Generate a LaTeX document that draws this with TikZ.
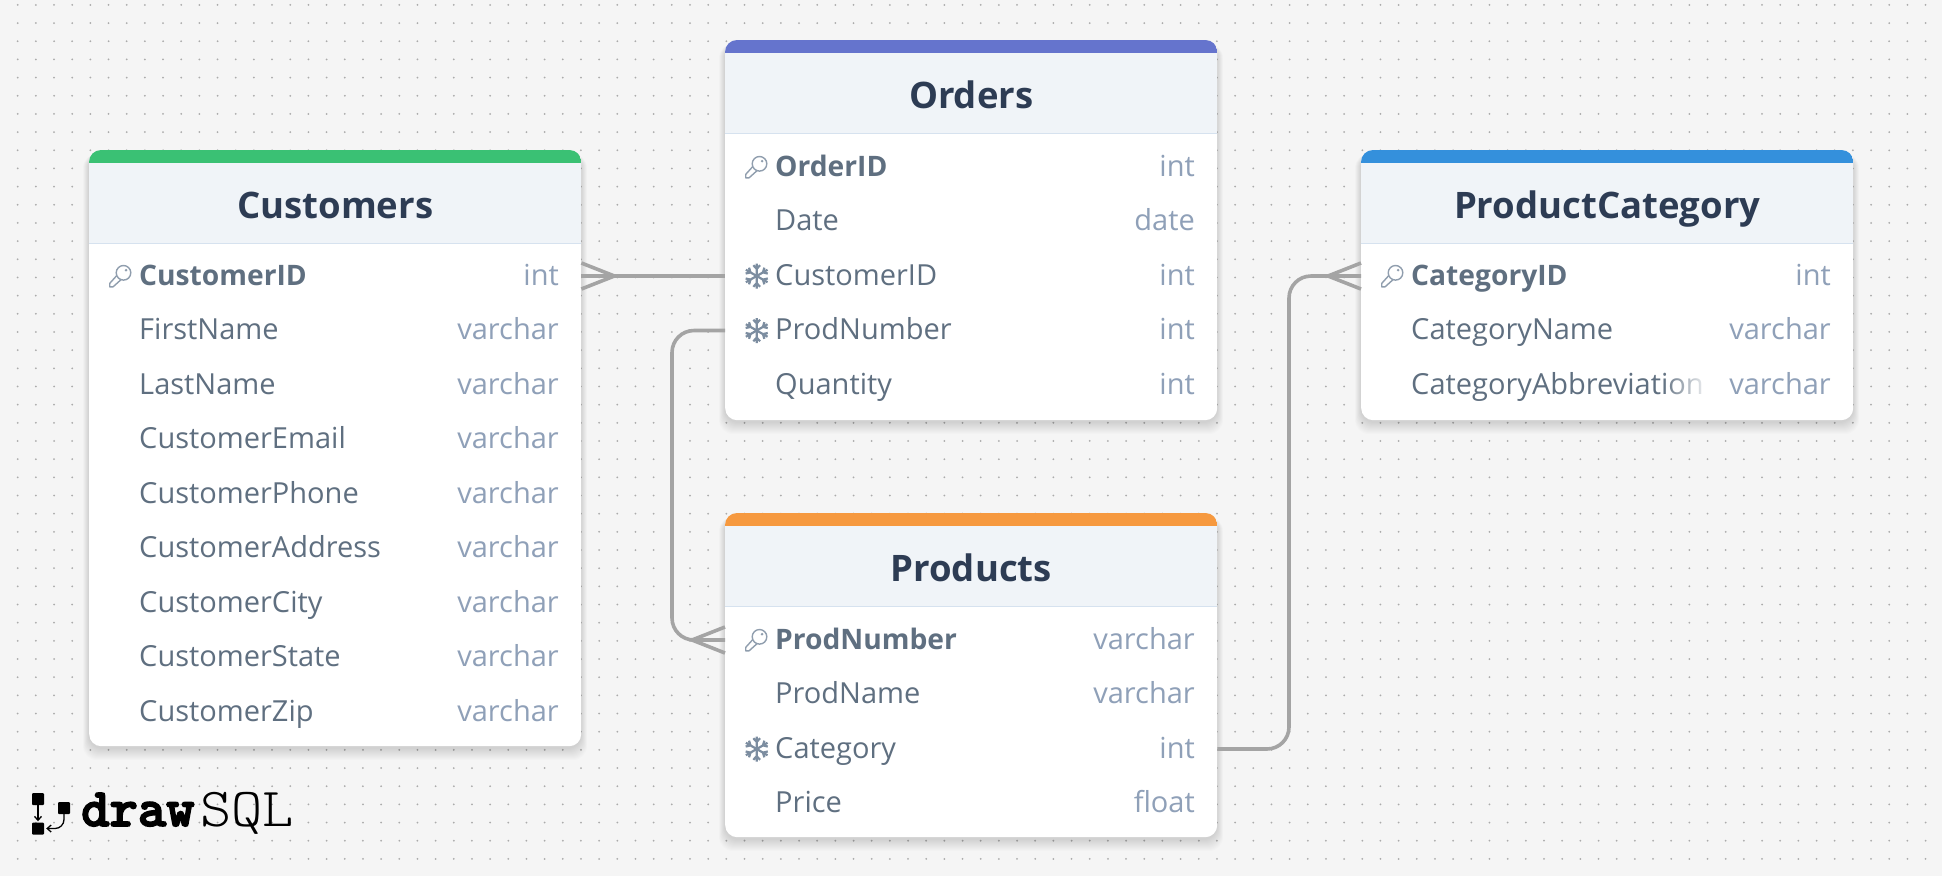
\documentclass[tikz,border=0pt]{standalone}
\usepackage{fontspec}
\setmainfont{Open Sans}
\newfontfamily\logobold[FakeBold=3]{Latin Modern Mono Light}
\newfontfamily\logolight[FakeStretch=1.08]{Latin Modern Mono Light}
\usetikzlibrary{calc,fadings,arrows.meta}

\definecolor{canvasbg}{HTML}{F5F5F5}
\definecolor{griddot}{HTML}{ABABAB}
\definecolor{headbg}{HTML}{F0F4F8}
\definecolor{headrule}{HTML}{D6E2EF}
\definecolor{titleink}{HTML}{2D3C54}
\definecolor{fieldink}{HTML}{5F6F80}
\definecolor{typeink}{HTML}{8FA0B8}
\definecolor{iconink}{HTML}{7C8DA0}
\definecolor{relink}{HTML}{A4A4A4}
\definecolor{barcust}{HTML}{3AC174}
\definecolor{barord}{HTML}{6574CD}
\definecolor{barprod}{HTML}{F6993F}
\definecolor{barcat}{HTML}{3490DC}

\tikzset{
	tablebody/.style={rectangle,rounded corners=12pt,fill=white,minimum width=492pt,anchor=north west,inner sep=0pt},
	tabletitle/.style={font=\fontsize{36.5}{36.5}\selectfont\bfseries,text=titleink,inner sep=0pt,text height=27pt,text depth=0pt},
	rowtext/.style={font=\fontsize{29}{29}\selectfont,inner sep=0pt,text height=18pt,text depth=0pt},
	fieldname/.style={rowtext,text=fieldink,anchor=west},
	pkname/.style={fieldname,font=\fontsize{28.2}{28.2}\selectfont\bfseries},
	fieldtype/.style={rowtext,text=typeink,anchor=east},
	relline/.style={draw=relink,line width=3.6pt},
	logosquare/.style={fill=black,rectangle,rounded corners=1pt,minimum size=12pt,inner sep=0pt},
	keyicon/.pic={
		\draw[iconink!85,line width=1.4pt,line join=round,fill=white] (0.6,3.6) -- (-7.4,10.8) -- (-10.8,10.8) -- (-10.8,7.4) -- (-3.6,-0.6);
		\draw[iconink!85,line width=1.4pt,fill=white] (3,-3.2) circle (7.3pt);
		\fill[iconink!85] (5.6,-5.8) circle (1.4pt);
	},
	flakeicon/.pic={
		\foreach \ang in {30,90,...,330}{
			\draw[iconink,line width=2.2pt,rotate=\ang] (0,0) -- (12.5,0) (10.8,-3.4) -- (7.2,0) -- (10.8,3.4);
		}
	}
}

%table with soft shadow, args: name, left, top, height, colour, title
\newcommand{\dbtable}[6]{
	\foreach \s in {1,...,12}{
		\fill[black,fill opacity=0.012,rounded corners=14pt] (#2-\s/2,#3+4) rectangle (#2+492+\s/2,#3+#4+\s+2);
	}
	\node[tablebody,minimum height=#4pt] (#1) at (#2,#3) {};
	\begin{scope}
		\clip[rounded corners=12pt] (#1.north west) rectangle (#1.south east);
		\fill[headbg] (#1.north west) rectangle ($(#1.north east)+(0,93)$);
		\fill[#5] (#1.north west) rectangle ($(#1.north east)+(0,13)$);
	\end{scope}
	\draw[headrule,line width=1.5pt] ($(#1.north west)+(0,93.5)$) -- ($(#1.north east)+(0,93.5)$);
	\node[tabletitle] (#1title) at ($(#1.north)+(0,55)$) {#6};
}
%many-side marker of a relation
\newcommand{\crowfoot}[2]{
	\draw[relline] ($(#1)+(0,-13)$) -- ($(#1)+(#2*33,0)$) -- ($(#1)+(0,13)$);
}

\begin{document}
\begin{tikzpicture}[x=1pt,y=-1pt]
		\useasboundingbox (0,0) rectangle (1942,876);
		\fill[canvasbg] (0,0) rectangle (1942,876);
		
		%dot grid
		\foreach \i in {0,...,106}{
			\foreach \j in {0,...,47}{
				\fill[griddot] (17.7+\i*18.17,4.9+\j*18.17) circle (1pt);
			}
		}
		
		%tables
		\dbtable{cust}{89}{150}{596}{barcust}{Customers}
		\dbtable{ord}{725}{40}{380}{barord}{Orders}
		\dbtable{prod}{725}{513}{324}{barprod}{Products}
		\dbtable{cat}{1361}{150}{270}{barcat}{ProductCategory}
		
		%customers rows
		\pic at (120.5,276) {keyicon};
		\node[pkname] (cust1) at (139,276) {CustomerID};
		\node[fieldtype] (cust1t) at (559,276) {int};
		\node[fieldname] (cust2) at (139,330.5) {FirstName};
		\node[fieldtype] (cust2t) at (559,330.5) {varchar};
		\node[fieldname] (cust3) at (139,385) {LastName};
		\node[fieldtype] (cust3t) at (559,385) {varchar};
		\node[fieldname] (cust4) at (139,439.5) {CustomerEmail};
		\node[fieldtype] (cust4t) at (559,439.5) {varchar};
		\node[fieldname] (cust5) at (139,494) {CustomerPhone};
		\node[fieldtype] (cust5t) at (559,494) {varchar};
		\node[fieldname] (cust6) at (139,548.5) {CustomerAddress};
		\node[fieldtype] (cust6t) at (559,548.5) {varchar};
		\node[fieldname] (cust7) at (139,603) {CustomerCity};
		\node[fieldtype] (cust7t) at (559,603) {varchar};
		\node[fieldname] (cust8) at (139,657.5) {CustomerState};
		\node[fieldtype] (cust8t) at (559,657.5) {varchar};
		\node[fieldname] (cust9) at (139,712) {CustomerZip};
		\node[fieldtype] (cust9t) at (559,712) {varchar};
		
		%orders rows
		\pic at (756.5,167) {keyicon};
		\node[pkname] (ord1) at (775,167) {OrderID};
		\node[fieldtype] (ord1t) at (1195,167) {int};
		\node[fieldname] (ord2) at (775,221.5) {Date};
		\node[fieldtype] (ord2t) at (1195,221.5) {date};
		\pic at (756.7,276) {flakeicon};
		\node[fieldname] (ord3) at (775,276) {CustomerID};
		\node[fieldtype] (ord3t) at (1195,276) {int};
		\pic at (756.7,330.5) {flakeicon};
		\node[fieldname] (ord4) at (775,330.5) {ProdNumber};
		\node[fieldtype] (ord4t) at (1195,330.5) {int};
		\node[fieldname] (ord5) at (775,385) {Quantity};
		\node[fieldtype] (ord5t) at (1195,385) {int};
		
		%products rows
		\pic at (756.5,640) {keyicon};
		\node[pkname] (prod1) at (775,640) {ProdNumber};
		\node[fieldtype] (prod1t) at (1195,640) {varchar};
		\node[fieldname] (prod2) at (775,694.5) {ProdName};
		\node[fieldtype] (prod2t) at (1195,694.5) {varchar};
		\pic at (756.7,749) {flakeicon};
		\node[fieldname] (prod3) at (775,749) {Category};
		\node[fieldtype] (prod3t) at (1195,749) {int};
		\node[fieldname] (prod4) at (775,803.5) {Price};
		\node[fieldtype] (prod4t) at (1195,803.5) {float};
		
		%category rows
		\pic at (1392.5,276) {keyicon};
		\node[pkname] (cat1) at (1411,276) {CategoryID};
		\node[fieldtype] (cat1t) at (1831,276) {int};
		\node[fieldname] (cat2) at (1411,330.5) {CategoryName};
		\node[fieldtype] (cat2t) at (1831,330.5) {varchar};
		\node[fieldname] (cat3) at (1411,385) {CategoryAbbreviation};
		\fill[white] (1708,365) rectangle (1726,405);
		\fill[white,path fading=west] (1662,365) rectangle (1710,405);
		\node[fieldtype] (cat3t) at (1831,385) {varchar};
		
		%relations
		\draw[relline] (cust.east |- cust1) -- (ord.west |- ord3);
		\crowfoot{cust.east |- cust1}{1}
		\draw[relline,rounded corners=22pt] (ord.west |- ord4) -| (672,640) -- (prod.west |- prod1);
		\crowfoot{prod.west |- prod1}{-1}
		\draw[relline,rounded corners=22pt] (prod.east |- prod3) -| (1289,276) -- (cat.west |- cat1);
		\crowfoot{cat.west |- cat1}{-1}
		
		%logo
		\node[logosquare] (logotop) at (38,799) {};
		\node[logosquare] (logoright) at (64,808) {};
		\node[logosquare] (logobottom) at (38,828.5) {};
		\draw[black,line width=1.3pt,-{Straight Barb[length=4pt,width=7pt]}] (logotop.south) -- ($(logobottom.north)+(0,-1)$);
		\draw[black,line width=1.3pt,rounded corners=9pt,-{Straight Barb[length=4pt,width=7pt]}] (logoright.south) |- ($(logobottom.east)+(2,0)$);
		\node[anchor=base west,inner sep=0pt] (logodraw) at (81,826) {\logobold\bfseries\fontsize{54}{54}\selectfont draw};
		\node[anchor=base west,inner sep=0pt] (logosql) at (200,826) {\logolight\fontsize{55}{55}\selectfont SQL};
\end{tikzpicture}
\end{document}
